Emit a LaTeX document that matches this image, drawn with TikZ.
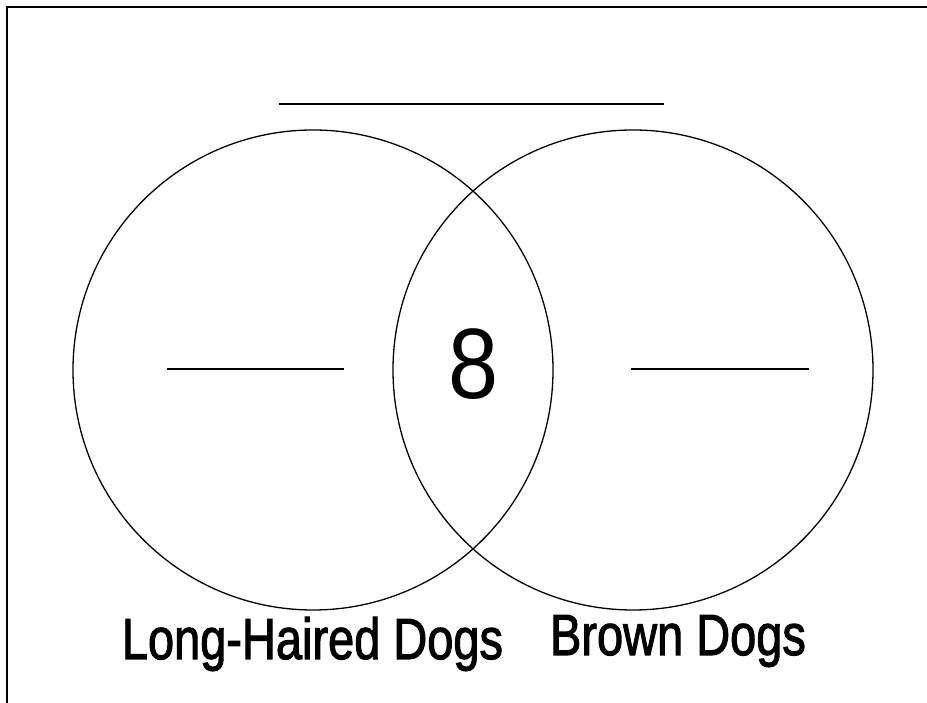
\documentclass[tikz,border=0pt]{standalone}
\usepackage{fontspec}
\setmainfont{Liberation Sans}
\newfontfamily\thicksans[FakeBold=2]{Liberation Sans}
\usetikzlibrary{positioning}

\begin{document}
\begin{tikzpicture}[
        x=1pt, y=1pt,
        venn/.style={
            draw, circle, line width=1.3pt, minimum size=480pt, inner sep=0pt
        },
        blank/.style={line width=1.6pt},
        setlabel/.style={anchor=base, inner sep=0pt, font=\fontsize{58}{60}\thicksans}
    ]
        \useasboundingbox (0,0) rectangle (927,703);
        % frame (only top and left edges show)
        \draw[line width=2pt] (7,0) -- (7,696) -- (927,696);
        % the two sets
        \node[venn] (longhair) at (313,333) {};
        \node[venn] (brown) at (633,333) {};
        % title blank
        \coordinate (t1) at (279,599);
        \coordinate (t2) at (664,599);
        \draw[blank] (t1) -- (t2);
        % blanks for the counts
        \coordinate (l1) at (167,334);
        \coordinate (l2) at (344,334);
        \draw[blank] (l1) -- (l2);
        \coordinate (r1) at (631,334);
        \coordinate (r2) at (809,334);
        \draw[blank] (r1) -- (r2);
        \node[anchor=base, inner sep=0pt, xscale=0.9,
              font=\fontsize{100}{100}\selectfont] (both) at (474,304) {8};
        % set names
        \node[setlabel, xscale=0.81] (longname) at (312.5,44) {Long-Haired Dogs};
        \node[setlabel, xscale=0.81] (brownname) at (678,48) {Brown Dogs};
    \end{tikzpicture}
\end{document}
